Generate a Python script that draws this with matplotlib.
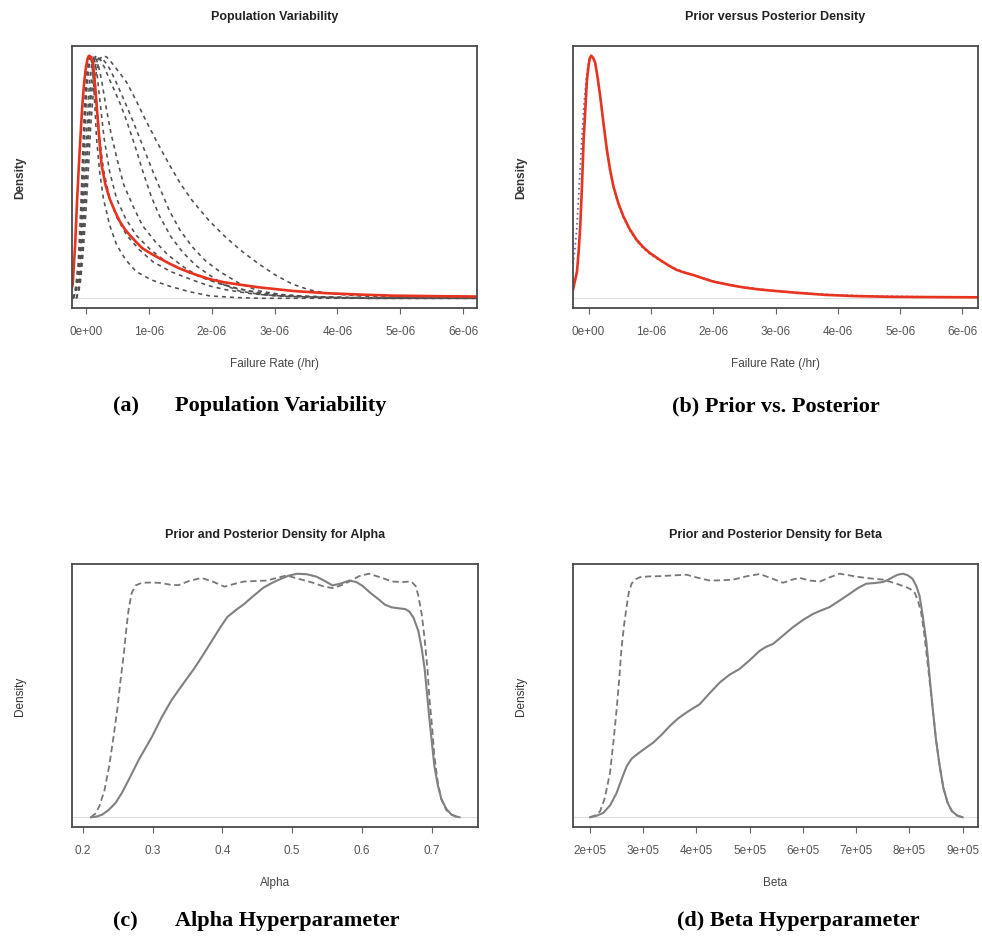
import matplotlib.pyplot as plt

# ---- data (failure rate in units of 1e-6 /hr, beta in units of 1e5, density scaled to peak = 1)
rate_ticks = [0, 1, 2, 3, 4, 5, 6]
rate_labels = ["0e+00", "1e-06", "2e-06", "3e-06", "4e-06", "5e-06", "6e-06"]
alpha_ticks = [0.2, 0.3, 0.4, 0.5, 0.6, 0.7]
alpha_labels = ["0.2", "0.3", "0.4", "0.5", "0.6", "0.7"]
beta_ticks = [2, 3, 4, 5, 6, 7, 8, 9]
beta_labels = ["2e+05", "3e+05", "4e+05", "5e+05", "6e+05", "7e+05", "8e+05", "9e+05"]

# (a) population variability: red = overall, dashed = source curves
pop_red_x = [-0.25, -0.21, -0.17, -0.14, -0.10, -0.06, -0.03, 0.0, 0.03, 0.05, 0.08, 0.11, 0.14,
             0.17, 0.21, 0.25, 0.31, 0.38, 0.46, 0.54, 0.62, 0.70, 0.80, 0.90, 1.03, 1.17, 1.33,
             1.49, 1.73, 1.97, 2.2, 2.4, 2.76, 3.05, 3.3, 3.83, 4.4, 4.87, 5.5, 6.3]
pop_red_y = [0.02, 0.055, 0.22, 0.40, 0.60, 0.78, 0.88, 0.95, 0.99, 1.0, 0.995, 0.975, 0.90,
             0.80, 0.67, 0.55, 0.47, 0.41, 0.36, 0.317, 0.285, 0.26, 0.232, 0.206, 0.185, 0.165, 0.143,
             0.123, 0.099, 0.079, 0.066, 0.058, 0.045, 0.037, 0.03, 0.021, 0.015, 0.011, 0.009, 0.007]

pop_d1_x = [-0.15, -0.11, -0.08, -0.04, 0.0, 0.04, 0.08, 0.12, 0.17, 0.22, 0.27, 0.33, 0.40, 0.52,
            0.65, 0.80, 0.96, 1.14, 1.33, 1.51, 1.70, 1.96, 2.23, 2.5, 2.76, 3.02, 3.29, 3.55, 3.82,
            4.3, 4.87, 6.3]
pop_d1_y = [0.0, 0.03, 0.08, 0.2, 0.35, 0.53, 0.72, 0.85, 0.94, 0.985, 1.0, 0.995, 0.975, 0.935,
            0.89, 0.815, 0.73, 0.64, 0.55, 0.47, 0.40, 0.32, 0.25, 0.19, 0.14, 0.095, 0.058, 0.035,
            0.021, 0.01, 0.005, 0.0]
pop_d2_x = [-0.15, -0.11, -0.08, -0.04, 0.0, 0.04, 0.08, 0.14, 0.2, 0.27, 0.35, 0.42, 0.50, 0.62,
            0.75, 0.91, 1.07, 1.2, 1.33, 1.5, 1.70, 1.9, 2.13, 2.45, 2.76, 3.1, 3.5, 4.5, 6.3]
pop_d2_y = [0.0, 0.04, 0.1, 0.26, 0.45, 0.65, 0.82, 0.95, 0.99, 0.985, 0.96, 0.925, 0.88, 0.81,
            0.73, 0.625, 0.52, 0.44, 0.36, 0.28, 0.21, 0.155, 0.11, 0.06, 0.03, 0.016, 0.008, 0.002, 0.0]
pop_d3_x = [-0.15, -0.11, -0.08, -0.04, 0.0, 0.04, 0.08, 0.12, 0.16, 0.23, 0.30, 0.37, 0.45, 0.55,
            0.65, 0.78, 0.91, 1.04, 1.17, 1.35, 1.54, 1.75, 1.97, 2.2, 2.44, 2.8, 3.2, 4.5, 6.3]
pop_d3_y = [0.0, 0.05, 0.12, 0.3, 0.5, 0.7, 0.88, 0.96, 1.0, 0.985, 0.95, 0.905, 0.86, 0.8,
            0.73, 0.63, 0.52, 0.42, 0.34, 0.255, 0.19, 0.135, 0.095, 0.055, 0.03, 0.015, 0.008, 0.0, 0.0]
pop_d4_x = [-0.2, -0.16, -0.12, -0.08, -0.05, -0.02, 0.02, 0.05, 0.08, 0.11, 0.15, 0.18, 0.22, 0.28,
            0.38, 0.5, 0.65, 0.85, 1.07, 1.35, 1.70, 1.95, 2.23, 2.6, 3.0, 3.7, 4.5, 6.3]
pop_d4_y = [0.0, 0.03, 0.1, 0.28, 0.5, 0.72, 0.92, 0.98, 1.0, 0.97, 0.88, 0.78, 0.66, 0.53,
            0.41, 0.33, 0.26, 0.2, 0.15, 0.11, 0.075, 0.052, 0.035, 0.02, 0.01, 0.003, 0.0, 0.0]
pop_d5_x = [-0.2, -0.16, -0.12, -0.08, -0.05, -0.02, 0.02, 0.06, 0.1, 0.14, 0.18, 0.23, 0.29, 0.38,
            0.49, 0.63, 0.80, 1.03, 1.28, 1.6, 1.97, 2.35, 2.76, 3.1, 3.5, 4.5, 6.3]
pop_d5_y = [0.0, 0.025, 0.08, 0.25, 0.45, 0.67, 0.88, 0.97, 1.0, 0.98, 0.92, 0.8, 0.66, 0.52,
            0.41, 0.33, 0.26, 0.2, 0.15, 0.11, 0.075, 0.045, 0.02, 0.011, 0.006, 0.0, 0.0]
pop_d6_x = [-0.2, -0.16, -0.12, -0.08, -0.05, -0.02, 0.02, 0.045, 0.07, 0.095, 0.12, 0.145, 0.17,
            0.22, 0.28, 0.38, 0.49, 0.63, 0.80, 1.05, 1.33, 1.65, 1.97, 2.4, 2.8, 6.3]
pop_d6_y = [0.0, 0.05, 0.15, 0.38, 0.6, 0.8, 0.95, 0.99, 1.0, 0.97, 0.9, 0.79, 0.66,
            0.52, 0.41, 0.3, 0.22, 0.16, 0.11, 0.075, 0.05, 0.027, 0.01, 0.003, 0.0, 0.0]
pop_d7_x = [-0.2, -0.15, -0.1, -0.06, -0.02, 0.02, 0.06, 0.1, 0.14, 0.19, 0.25, 0.32, 0.40, 0.50,
            0.60, 0.75, 0.90, 1.1, 1.3, 1.55, 1.8, 2.1, 2.4, 2.8, 3.2, 3.8, 4.5, 6.3]
pop_d7_y = [0.0, 0.04, 0.1, 0.28, 0.5, 0.72, 0.9, 0.975, 1.0, 0.97, 0.9, 0.79, 0.68, 0.57,
            0.47, 0.38, 0.30, 0.235, 0.18, 0.13, 0.09, 0.062, 0.04, 0.022, 0.012, 0.005, 0.0, 0.0]

# (b) prior vs posterior
post_x = [-0.25, -0.22, -0.186, -0.16, -0.133, -0.105, -0.08, -0.05, -0.026, 0.0, 0.02, 0.043,
          0.075, 0.107, 0.145, 0.187, 0.24, 0.294, 0.345, 0.40, 0.48, 0.56, 0.66, 0.774, 0.88,
          0.987, 1.147, 1.28, 1.414, 1.55, 1.68, 1.84, 2.0, 2.24, 2.48, 2.72, 2.96, 3.38, 3.81,
          4.3, 4.88, 5.5, 6.3]
post_y = [0.035, 0.07, 0.11, 0.19, 0.30, 0.47, 0.65, 0.79, 0.90, 0.96, 0.99, 1.0,
          0.99, 0.97, 0.91, 0.832, 0.72, 0.612, 0.53, 0.46, 0.39, 0.337, 0.285, 0.24, 0.21,
          0.186, 0.158, 0.136, 0.117, 0.105, 0.096, 0.082, 0.069, 0.056, 0.045, 0.037, 0.031, 0.022, 0.014,
          0.009, 0.006, 0.005, 0.004]
prior_x = post_x
prior_y = [0.14, 0.2, 0.3, 0.42, 0.55, 0.67, 0.78, 0.87, 0.93, 0.97, 0.995, 1.0,
           0.99, 0.965, 0.905, 0.83, 0.715, 0.605, 0.52, 0.455, 0.385, 0.332, 0.28, 0.235, 0.205,
           0.182, 0.155, 0.136, 0.12, 0.107, 0.097, 0.084, 0.071, 0.058, 0.047, 0.039, 0.032, 0.023, 0.016,
           0.011, 0.008, 0.006, 0.005]

# (c) alpha
alpha_prior_x = [0.2117, 0.218, 0.2236, 0.231, 0.2378, 0.244, 0.2495, 0.254, 0.259, 0.263, 0.266,
                 0.270, 0.2754, 0.2849, 0.300, 0.313, 0.325, 0.337, 0.352, 0.370, 0.386, 0.403,
                 0.417, 0.431, 0.448, 0.464, 0.478, 0.492, 0.511, 0.530, 0.545, 0.558, 0.570, 0.582,
                 0.596, 0.610, 0.627, 0.643, 0.657, 0.671, 0.677, 0.681, 0.686, 0.690, 0.694, 0.697,
                 0.701, 0.704, 0.709, 0.714, 0.721, 0.728, 0.735, 0.740]
alpha_prior_y = [0.0, 0.015, 0.045, 0.11, 0.21, 0.33, 0.444, 0.56, 0.677, 0.79, 0.86,
                 0.92, 0.952, 0.963, 0.964, 0.962, 0.955, 0.953, 0.97, 0.983, 0.968, 0.947,
                 0.958, 0.968, 0.970, 0.972, 0.983, 0.993, 0.978, 0.963, 0.948, 0.941, 0.952, 0.968,
                 0.99, 1.0, 0.985, 0.968, 0.966, 0.968, 0.95, 0.91, 0.83, 0.732, 0.61, 0.485,
                 0.36, 0.25, 0.14, 0.073, 0.03, 0.011, 0.003, 0.0]
alpha_post_x = [0.2117, 0.220, 0.228, 0.237, 0.247, 0.256, 0.266, 0.280, 0.299, 0.313, 0.327, 0.343,
                0.360, 0.372, 0.384, 0.396, 0.407, 0.419, 0.431, 0.445, 0.459, 0.471, 0.483, 0.495,
                0.507, 0.521, 0.535, 0.547, 0.558, 0.570, 0.582, 0.592, 0.601, 0.612, 0.624, 0.633,
                0.643, 0.653, 0.662, 0.668, 0.674, 0.681, 0.686, 0.690, 0.694, 0.697, 0.701, 0.704,
                0.709, 0.714, 0.721, 0.728, 0.735, 0.740]
alpha_post_y = [0.0, 0.003, 0.011, 0.030, 0.059, 0.10, 0.155, 0.235, 0.33, 0.41, 0.48, 0.545,
                0.612, 0.665, 0.72, 0.775, 0.822, 0.85, 0.875, 0.91, 0.943, 0.962, 0.978, 0.992,
                1.0, 0.998, 0.988, 0.97, 0.952, 0.96, 0.972, 0.966, 0.950, 0.922, 0.895, 0.873,
                0.862, 0.858, 0.855, 0.845, 0.82, 0.765, 0.69, 0.61, 0.49, 0.40, 0.29, 0.21,
                0.13, 0.075, 0.035, 0.012, 0.003, 0.0]

# (d) beta
beta_prior_x = [2.0, 2.1, 2.19, 2.28, 2.375, 2.44, 2.50, 2.55, 2.59, 2.64, 2.69, 2.73, 2.78, 2.86,
                2.94, 3.1, 3.31, 3.55, 3.81, 4.05, 4.25, 4.47, 4.69, 4.95, 5.19, 5.42, 5.63, 5.80,
                5.94, 6.13, 6.32, 6.50, 6.69, 6.88, 7.07, 7.30, 7.50, 7.72, 7.94, 8.02, 8.10, 8.16,
                8.22, 8.27, 8.32, 8.38, 8.44, 8.50, 8.57, 8.64, 8.72, 8.80, 8.90, 9.0]
beta_prior_y = [0.0, 0.008, 0.025, 0.08, 0.183, 0.31, 0.444, 0.57, 0.691, 0.79, 0.869, 0.925, 0.959, 0.978,
                0.986, 0.989, 0.99, 0.993, 0.996, 0.982, 0.972, 0.973, 0.976, 0.99, 0.999, 0.98, 0.963, 0.976,
                0.983, 0.972, 0.968, 0.985, 1.0, 0.993, 0.986, 0.98, 0.976, 0.962, 0.945, 0.937, 0.922, 0.89,
                0.842, 0.77, 0.677, 0.56, 0.444, 0.32, 0.21, 0.12, 0.059, 0.025, 0.007, 0.0]
beta_post_x = [2.0, 2.12, 2.25, 2.38, 2.50, 2.60, 2.69, 2.78, 2.88, 3.03, 3.19, 3.35, 3.50, 3.65,
               3.81, 3.94, 4.06, 4.25, 4.44, 4.62, 4.81, 5.0, 5.19, 5.31, 5.44, 5.62, 5.81, 6.0,
               6.19, 6.35, 6.50, 6.69, 6.88, 7.04, 7.19, 7.35, 7.50, 7.60, 7.69, 7.78, 7.88, 7.97,
               8.06, 8.13, 8.19, 8.25, 8.32, 8.38, 8.44, 8.50, 8.57, 8.64, 8.72, 8.80, 8.90, 9.0]
beta_post_y = [0.0, 0.006, 0.018, 0.05, 0.1, 0.16, 0.21, 0.24, 0.258, 0.282, 0.307, 0.34, 0.375, 0.405,
               0.43, 0.448, 0.464, 0.51, 0.554, 0.585, 0.609, 0.645, 0.684, 0.70, 0.712, 0.745, 0.780, 0.81,
               0.835, 0.85, 0.863, 0.89, 0.918, 0.942, 0.959, 0.962, 0.966, 0.975, 0.986, 0.996, 1.0, 0.994,
               0.979, 0.95, 0.911, 0.83, 0.719, 0.58, 0.444, 0.32, 0.21, 0.12, 0.059, 0.025, 0.007, 0.0]

# ---- style
plt.rcParams['font.family'] = ['Liberation Sans', 'DejaVu Sans']
W, H = 982, 937
fig = plt.figure(figsize=(W / 100, H / 100), dpi=100)


def box(px_left, px_top, px_right, px_bottom):
    return [px_left / W, 1 - px_bottom / H, (px_right - px_left) / W, (px_bottom - px_top) / H]


def style(ax, xlim, ticks, labels, title, xlabel, bold_y):
    ax.set_xlim(*xlim)
    ax.set_ylim(-0.04, 1.04)
    ax.set_yticks([])
    ax.set_xticks(ticks)
    ax.set_xticklabels(labels)
    ax.tick_params(axis='x', direction='out', length=4, width=0.8, color='#666666',
                   labelsize=8.5, labelcolor='#555555', pad=8)
    for s in ax.spines.values():
        s.set_color('#4a4a4a')
        s.set_linewidth(1.3)
    ax.axhline(0, color='#dddddd', lw=0.8, zorder=0)
    ax.text(0.5, 1.114, title, transform=ax.transAxes, ha='center', va='center',
            fontsize=9, fontweight='bold', color='#222222')
    ax.text(0.5, -0.209, xlabel, transform=ax.transAxes, ha='center', va='center',
            fontsize=8.5, color='#444444')
    ax.text(-0.128, 0.5, "Density", transform=ax.transAxes, ha='center', va='center',
            rotation=90, fontsize=8.5, color='#333333',
            fontweight='bold' if bold_y else 'normal')


ax_a = fig.add_axes(box(72, 47, 477, 309))
ax_b = fig.add_axes(box(573, 47, 978, 309))
ax_c = fig.add_axes(box(72, 565, 478, 828))
ax_d = fig.add_axes(box(573, 565, 978, 828))

# (a)
dash = dict(color='#505050', lw=1.15, ls=(0, (2.5, 2.5)))
for xs, ys in [(pop_d1_x, pop_d1_y), (pop_d2_x, pop_d2_y), (pop_d3_x, pop_d3_y),
               (pop_d4_x, pop_d4_y), (pop_d5_x, pop_d5_y), (pop_d6_x, pop_d6_y),
               (pop_d7_x, pop_d7_y)]:
    ax_a.plot(xs, ys, **dash)
ax_a.plot(pop_red_x, pop_red_y, color='#e8331f', lw=1.9)
style(ax_a, (-0.22, 6.22), rate_ticks, rate_labels, "Population Variability",
      "Failure Rate (/hr)", True)

# (b)
ax_b.plot(prior_x, prior_y, color='#5560c0', lw=1.2, ls=(0, (1, 2)))
ax_b.plot(post_x, post_y, color='#e8331f', lw=1.9)
style(ax_b, (-0.25, 6.25), rate_ticks, rate_labels, "Prior versus Posterior Density",
      "Failure Rate (/hr)", True)

# (c)
ax_c.plot(alpha_prior_x, alpha_prior_y, color='#777777', lw=1.3, ls=(0, (3.5, 2)))
ax_c.plot(alpha_post_x, alpha_post_y, color='#808080', lw=1.5)
style(ax_c, (0.1845, 0.7665), alpha_ticks, alpha_labels, "Prior and Posterior Density for Alpha",
      "Alpha", False)

# (d)
ax_d.plot(beta_prior_x, beta_prior_y, color='#777777', lw=1.3, ls=(0, (3.5, 2)))
ax_d.plot(beta_post_x, beta_post_y, color='#808080', lw=1.5)
style(ax_d, (1.68, 9.29), beta_ticks, beta_labels, "Prior and Posterior Density for Beta",
      "Beta", False)

# ---- captions
cap = dict(family='Liberation Serif', fontsize=16, fontweight='bold', va='center', color='black')
fig.text(113 / W, 1 - 406 / H, "(a)", ha='left', **cap)
fig.text(175 / W, 1 - 406 / H, "Population Variability", ha='left', **cap)
fig.text(776 / W, 1 - 406 / H, "(b) Prior vs. Posterior", ha='center', **cap)
fig.text(113 / W, 1 - 921 / H, "(c)", ha='left', **cap)
fig.text(175 / W, 1 - 921 / H, "Alpha Hyperparameter", ha='left', **cap)
fig.text(798 / W, 1 - 921 / H, "(d) Beta Hyperparameter", ha='center', **cap)

fig.savefig('out.png', dpi=100)
